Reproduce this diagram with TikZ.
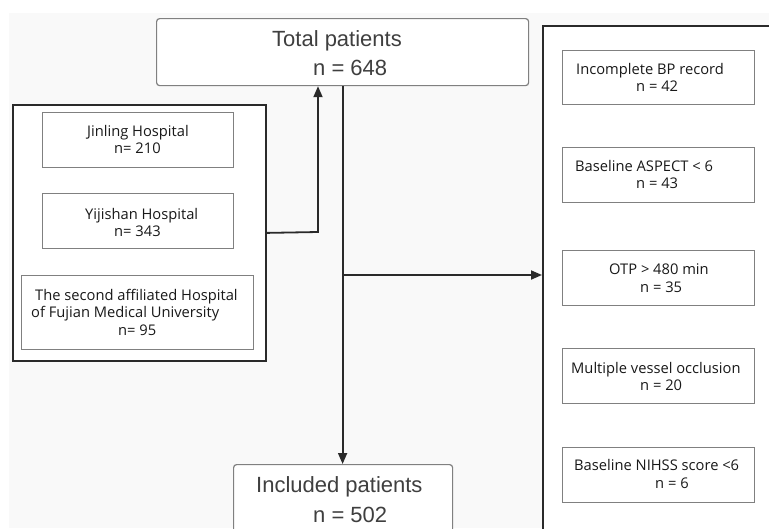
\documentclass[tikz,border=0pt]{standalone}
\usepackage{fontspec}
\setmainfont{Open Sans}
\newfontfamily\arialf{Liberation Sans}
\usetikzlibrary{arrows.meta}
\definecolor{bg}{HTML}{F9F9F9}
\definecolor{ink}{HTML}{2A2A2A}
\definecolor{boxgray}{HTML}{808080}
\tikzset{
  outerbox/.style={draw=ink, line width=1.8pt, fill=white, inner sep=0pt, anchor=north west},
  innerbox/.style={draw=boxgray, line width=1.2pt, fill=white, inner sep=0pt, anchor=north west},
  bigbox/.style={draw=boxgray, line width=1.2pt, fill=white, rounded corners=3pt, inner sep=0pt, anchor=north west},
  small/.style={anchor=base west, inner sep=0pt, text=black!90, font=\fontsize{14.7}{17}\selectfont},
  big/.style={anchor=base west, inner sep=0pt, text=ink!90, font=\arialf\fontsize{22}{26}\selectfont},
  conn/.style={draw=ink, line width=1.8pt},
  arr/.style={conn, -{Triangle[length=11pt, width=9pt]}},
}
\begin{document}
\begin{tikzpicture}[x=1pt, y=-1pt]
\useasboundingbox (0,0) rectangle (769,528);
\clip (0,0) rectangle (769,528);
\fill[white] (0,0) rectangle (769,528);
\fill[bg] (9,13) rectangle (769,528);

% top box
\node[bigbox, minimum width=372pt, minimum height=67pt] (total) at (156,18) {};
\node[big] (tl1) at (272,46) {Total patients};
\node[big] (tl2) at (313,75) {n = 648};

% left group
\node[outerbox, minimum width=253pt, minimum height=256pt] (grp) at (12,104) {};
\node[innerbox, minimum width=191pt, minimum height=55pt] (jin) at (42,112) {};
\node[small] (jin1) at (87,136) {Jinling Hospital};
\node[small] (jin2) at (114,153) {n= 210};
\node[innerbox, minimum width=191pt, minimum height=55pt] (yij) at (42,193) {};
\node[small] (yij1) at (85,219) {Yijishan Hospital};
\node[small] (yij2) at (114,236) {n= 343};
\node[innerbox, minimum width=232pt, minimum height=74pt] (fuj) at (21,275) {};
\node[small] (fuj1) at (35,300) {The second affiliated Hospital};
\node[small] (fuj2) at (31,317) {of Fujian Medical University};
\node[small] (fuj3) at (118,335) {n= 95};

% exclusion group
\node[outerbox, minimum width=260pt, minimum height=540pt] (excl) at (542,25) {};
\node[innerbox, minimum width=192pt, minimum height=54pt] (e1) at (562,50) {};
\node[small] (e1a) at (576,74) {Incomplete BP record};
\node[small] (e1b) at (636,91) {n = 42};
\node[innerbox, minimum width=192pt, minimum height=55pt] (e2) at (562,147) {};
\node[small] (e2a) at (575,171) {Baseline ASPECT < 6};
\node[small] (e2b) at (636,188) {n = 43};
\node[innerbox, minimum width=192pt, minimum height=55pt] (e3) at (562,250) {};
\node[small] (e3a) at (609,274) {OTP > 480 min};
\node[small] (e3b) at (640,292) {n = 35};
\node[innerbox, minimum width=192pt, minimum height=55pt] (e4) at (562,348) {};
\node[small] (e4a) at (571,373) {Multiple vessel occlusion};
\node[small] (e4b) at (640,390) {n = 20};
\node[innerbox, minimum width=192pt, minimum height=55pt] (e5) at (562,447) {};
\node[small] (e5a) at (574,470) {Baseline NIHSS score <6};
\node[small] (e5b) at (655,488) {n = 6};

% included
\node[bigbox, minimum width=219pt, minimum height=80pt] (incl) at (233,464) {};
\node[big] (il1) at (256,492) {Included patients};
\node[big] (il2) at (313,522) {n = 502};

% connectors
\coordinate (j1) at (318,232);
\coordinate (j2) at (342,275);
\draw[arr] (grp.east) -- (j1) -- (j1 |- total.south);
\draw[arr] (total.south) -- (total.south |- incl.north);
\draw[arr] (j2) -- (j2 -| excl.west);
\end{tikzpicture}
\end{document}
